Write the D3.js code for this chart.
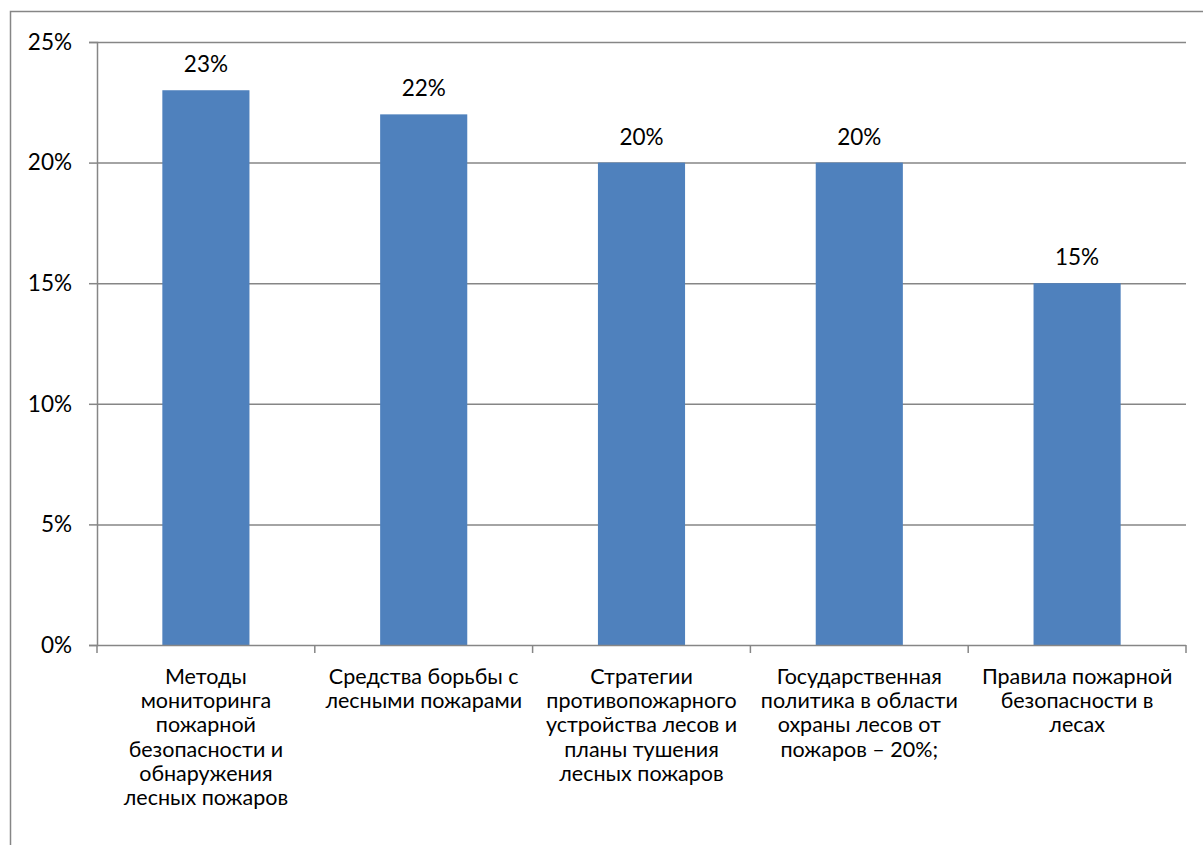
<!DOCTYPE html>
<html>
<head>
<meta charset="utf-8">
<script src="https://cdn.jsdelivr.net/npm/d3@7"></script>
<style>
  body { margin: 0; background: #fff; }
  text { font-family: Lato, "Noto Sans", sans-serif; fill: #000; }
</style>
</head>
<body>
<div id="vis"></div>
<script>
// chart of forest fire topics, values in percent

const FRAME_WIDTH = 1203;
const FRAME_HEIGHT = 845;
const MARGINS = {left: 97, right: 17, top: 42, bottom: 200};

const categories = [
  ["Методы", "мониторинга", "пожарной", "безопасности и", "обнаружения", "лесных пожаров"],
  ["Средства борьбы с", "лесными пожарами"],
  ["Стратегии", "противопожарного", "устройства лесов и", "планы тушения", "лесных пожаров"],
  ["Государственная", "политика в области", "охраны лесов от", "пожаров – 20%;"],
  ["Правила пожарной", "безопасности в", "лесах"]
];
const values = [23, 22, 20, 20, 15];
const yTicks = [0, 5, 10, 15, 20, 25];

const VIS_WIDTH = FRAME_WIDTH - MARGINS.left - MARGINS.right;
const VIS_HEIGHT = FRAME_HEIGHT - MARGINS.top - MARGINS.bottom;

const svg = d3.select("#vis")
  .append("svg")
    .attr("width", FRAME_WIDTH)
    .attr("height", FRAME_HEIGHT);

// outer chart border (clipped at right and bottom like the source)
svg.append("rect")
  .attr("x", 10.5)
  .attr("y", 11.5)
  .attr("width", FRAME_WIDTH + 20)
  .attr("height", FRAME_HEIGHT + 20)
  .attr("fill", "none")
  .attr("stroke", "#868686")
  .attr("stroke-width", 1.5);

const X_SCALE = d3.scaleBand()
  .domain(d3.range(categories.length))
  .range([0, VIS_WIDTH]);

const Y_SCALE = d3.scaleLinear()
  .domain([0, 25])
  .range([VIS_HEIGHT, 0]);

const g = svg.append("g")
  .attr("transform", "translate(" + MARGINS.left + "," + MARGINS.top + ")");

// gridlines
g.selectAll(".grid")
  .data(yTicks.filter(d => d > 0))
  .enter()
  .append("line")
    .attr("x1", 0)
    .attr("x2", VIS_WIDTH)
    .attr("y1", d => Y_SCALE(d) + 0.5)
    .attr("y2", d => Y_SCALE(d) + 0.5)
    .attr("stroke", "#868686")
    .attr("stroke-width", 1.5);

// bars
const BAR_W = X_SCALE.bandwidth() * 0.4;
g.selectAll(".bar")
  .data(values)
  .enter()
  .append("rect")
    .attr("x", (d, i) => X_SCALE(i) + (X_SCALE.bandwidth() - BAR_W) / 2)
    .attr("y", d => Y_SCALE(d))
    .attr("width", BAR_W)
    .attr("height", d => VIS_HEIGHT - Y_SCALE(d))
    .attr("fill", "#4F81BD");

// value labels
g.selectAll(".val")
  .data(values)
  .enter()
  .append("text")
    .attr("x", (d, i) => X_SCALE(i) + X_SCALE.bandwidth() / 2)
    .attr("y", d => Y_SCALE(d) - 18)
    .attr("text-anchor", "middle")
    .attr("font-size", "22.5px")
    .text(d => d + "%");

// y axis
const yAxis = g.append("g")
  .call(d3.axisLeft(Y_SCALE).tickValues(yTicks).tickFormat(d => d + "%").tickSize(8).tickPadding(17));
yAxis.selectAll("path, line").attr("stroke", "#868686").attr("stroke-width", 1.5);
yAxis.selectAll("text").attr("font-size", "22.5px").attr("font-family", "Lato, sans-serif");

// x axis
const xAxis = g.append("g")
  .attr("transform", "translate(0," + VIS_HEIGHT + ")");
xAxis.append("line")
  .attr("x1", 0).attr("x2", VIS_WIDTH)
  .attr("y1", 0.5).attr("y2", 0.5)
  .attr("stroke", "#868686").attr("stroke-width", 1.5);
xAxis.selectAll(".xtick")
  .data(d3.range(categories.length + 1))
  .enter()
  .append("line")
    .attr("x1", d => d * X_SCALE.step())
    .attr("x2", d => d * X_SCALE.step())
    .attr("y1", 0)
    .attr("y2", 8)
    .attr("stroke", "#868686")
    .attr("stroke-width", 1.5);

xAxis.selectAll(".xlab")
  .data(categories)
  .enter()
  .append("text")
    .attr("text-anchor", "middle")
    .attr("font-size", "21.5px")
    .attr("transform", (d, i) => "translate(" + (X_SCALE(i) + X_SCALE.bandwidth() / 2) + ",39)")
    .selectAll("tspan")
    .data(d => d)
    .enter()
    .append("tspan")
      .attr("x", 0)
      .attr("y", (d, j) => j * 24.2)
      .text(d => d);
</script>
</body>
</html>
